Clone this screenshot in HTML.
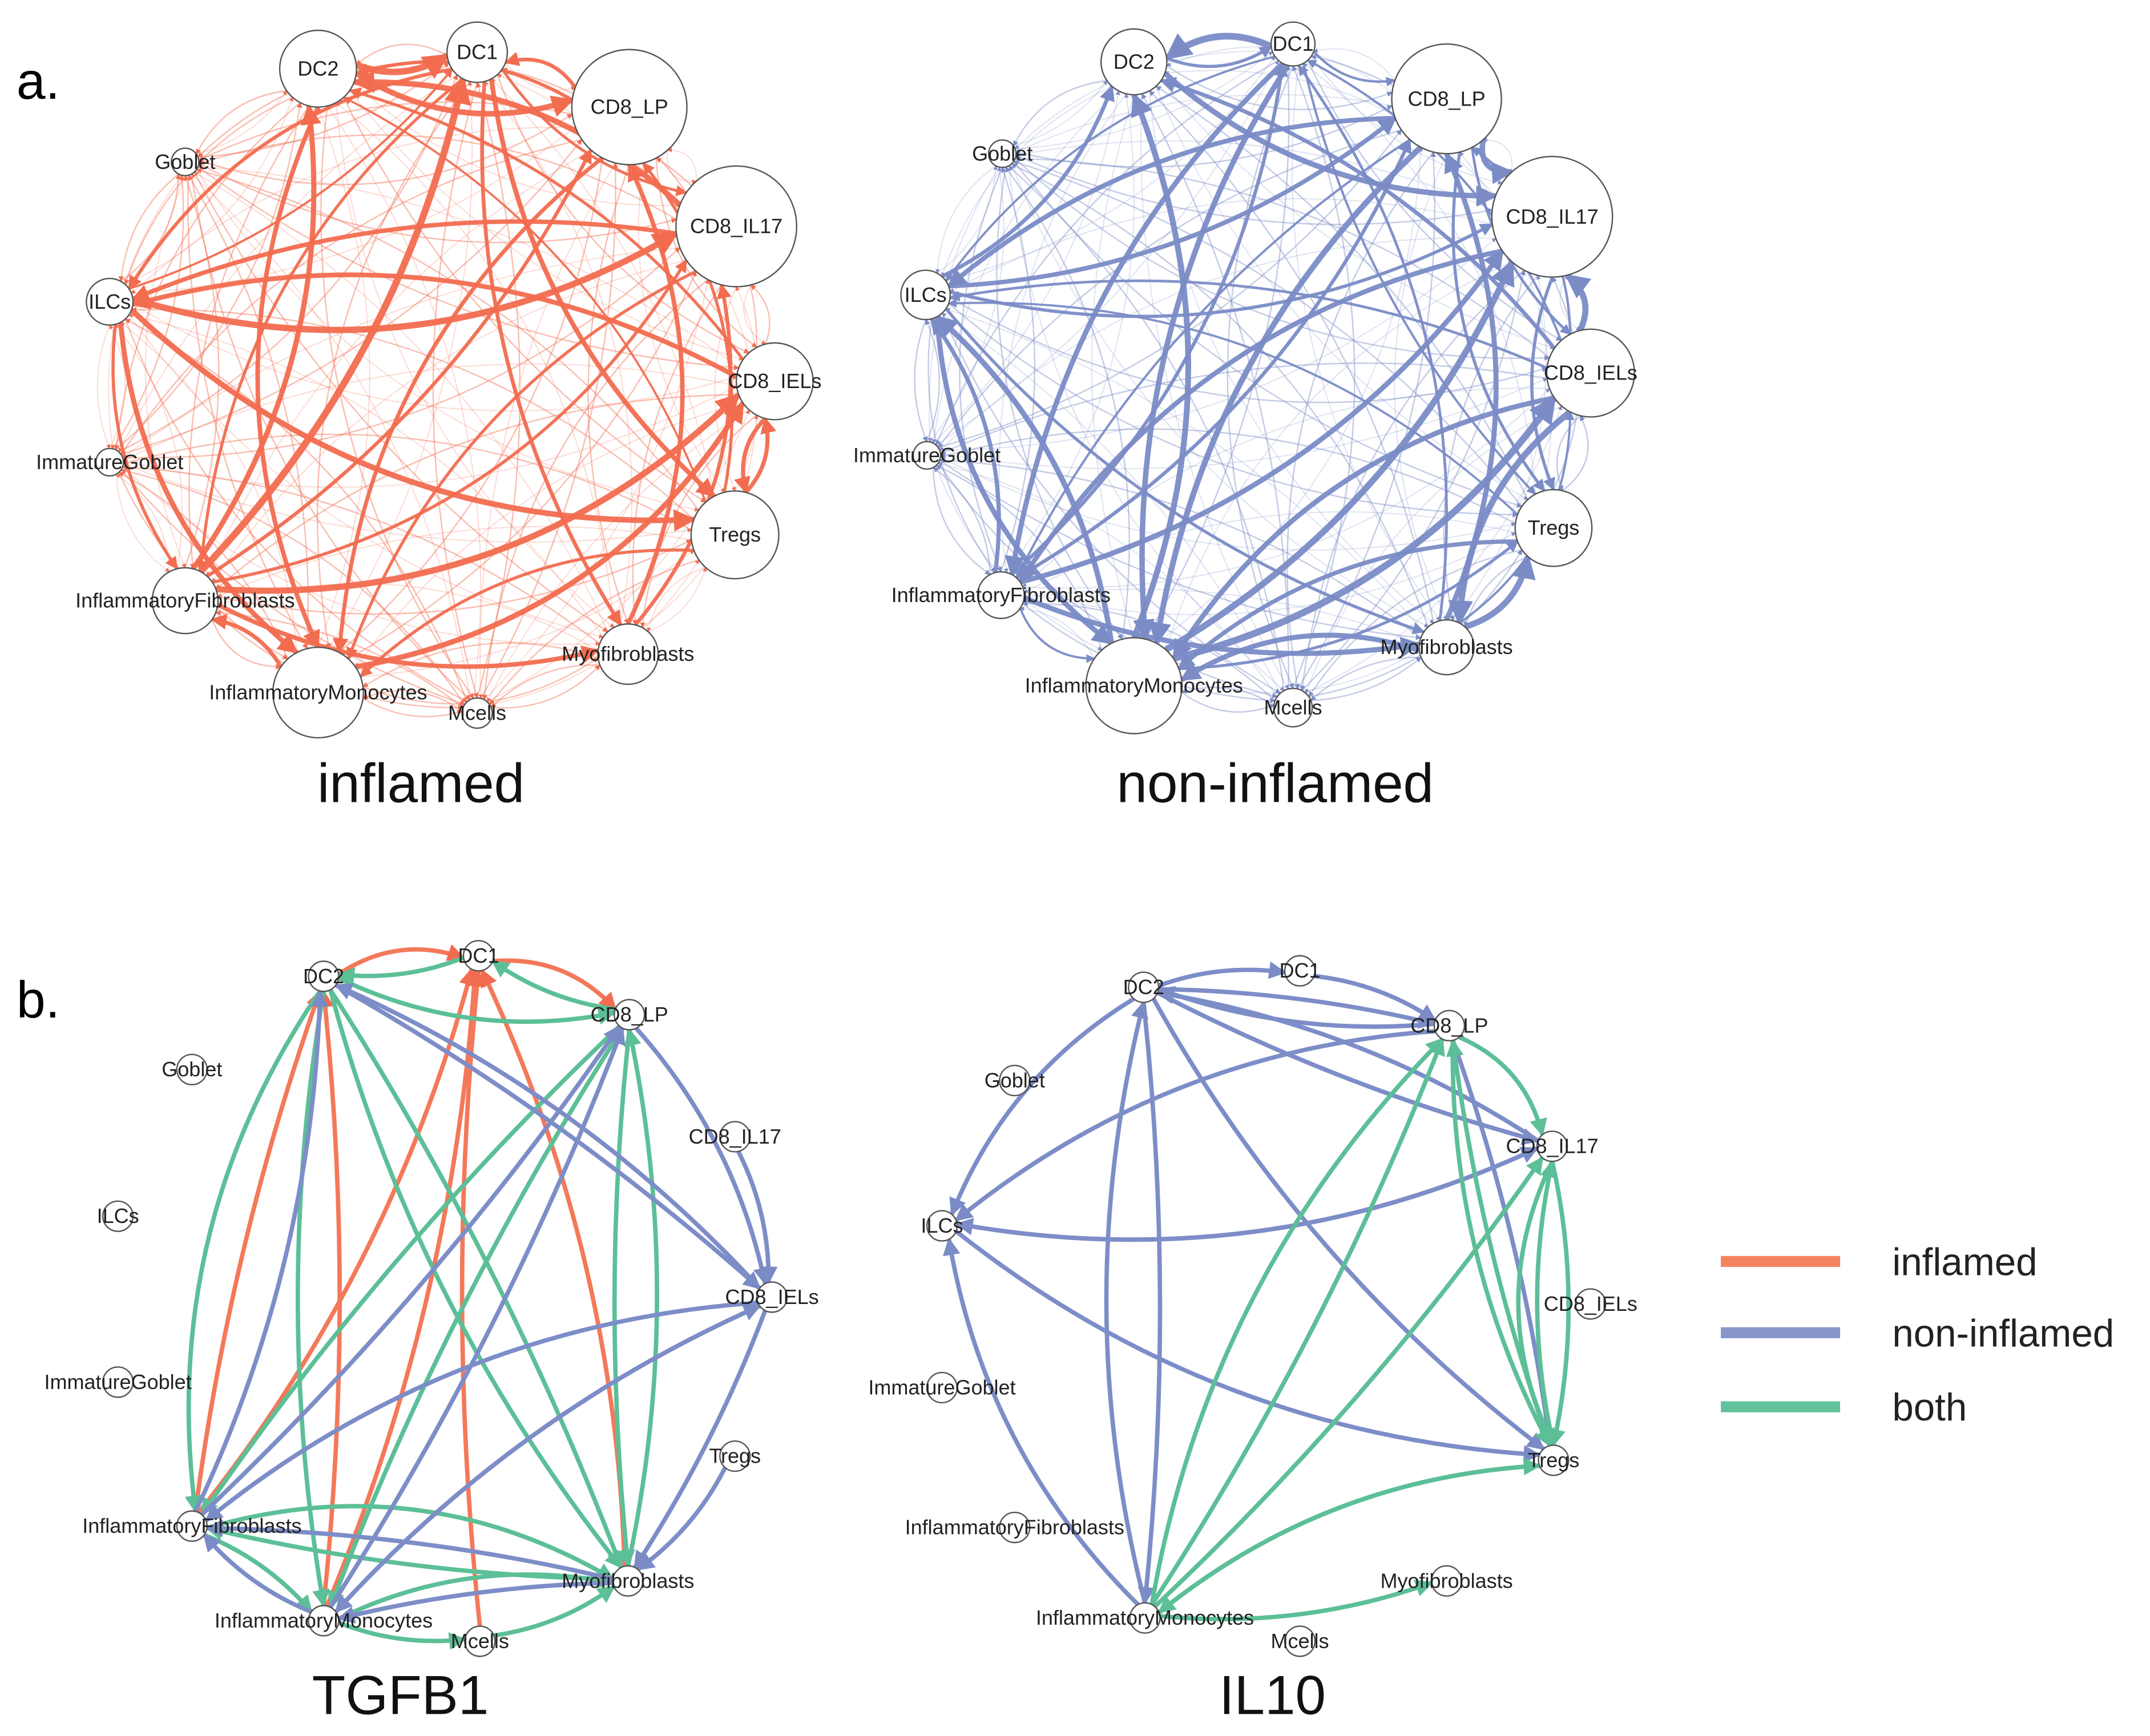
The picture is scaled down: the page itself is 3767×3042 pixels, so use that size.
<!DOCTYPE html>
<html><head><meta charset="utf-8"><style>
html,body{margin:0;padding:0;background:#fff}
svg{display:block}
text{font-family:"Liberation Sans",sans-serif}
</style></head><body>
<svg id="s" width="3767" height="3042" viewBox="0 0 1568 1266" xmlns="http://www.w3.org/2000/svg">
<defs>
<marker id="mo" viewBox="0 0 10 10" refX="9" refY="5" markerWidth="4" markerHeight="4" orient="auto" markerUnits="strokeWidth"><path d="M0,0L10,5L0,10z" fill="#f26c4f"/></marker>
<marker id="mb" viewBox="0 0 10 10" refX="9" refY="5" markerWidth="4" markerHeight="4" orient="auto" markerUnits="strokeWidth"><path d="M0,0L10,5L0,10z" fill="#7a8bc6"/></marker>
<marker id="mg" viewBox="0 0 10 10" refX="9" refY="5" markerWidth="4" markerHeight="4" orient="auto" markerUnits="strokeWidth"><path d="M0,0L10,5L0,10z" fill="#5cbf97"/></marker>
</defs>
<g id="edges"></g>
<g id="nodes" fill="#fff" stroke="#555" stroke-width="1"></g>
<g font-size="15" fill="#222" text-anchor="middle" id="labels"></g>
<text x="12" y="72" font-size="38" fill="#000">a.</text>
<text x="12" y="742" font-size="38" fill="#000">b.</text>
<text x="307" y="585" font-size="40" text-anchor="middle" fill="#111">inflamed</text>
<text x="930" y="585" font-size="40" text-anchor="middle" fill="#111">non-inflamed</text>
<text x="292" y="1250" font-size="40" text-anchor="middle" fill="#111">TGFB1</text>
<text x="928" y="1250" font-size="40" text-anchor="middle" fill="#111">IL10</text>
<line x1="1255" y1="920" x2="1342" y2="920" stroke="#f4845f" stroke-width="8"/>
<line x1="1255" y1="972" x2="1342" y2="972" stroke="#8795cc" stroke-width="8"/>
<line x1="1255" y1="1026" x2="1342" y2="1026" stroke="#62c29c" stroke-width="8"/>
<text x="1380" y="930" font-size="28" fill="#222">inflamed</text>
<text x="1380" y="982" font-size="28" fill="#222">non-inflamed</text>
<text x="1380" y="1036" font-size="28" fill="#222">both</text>
</svg>
<script>
const N=["DC2","DC1","CD8_LP","Goblet","CD8_IL17","ILCs","CD8_IELs","ImmatureGoblet","Tregs","InflammatoryFibroblasts","Myofibroblasts","InflammatoryMonocytes","Mcells"];
const A={DC2:[232,50,28],DC1:[348,38,22],CD8_LP:[459,78,42],Goblet:[135,118,10],CD8_IL17:[537,165,44],ILCs:[80,220,17],CD8_IELs:[565,278,28],ImmatureGoblet:[80,337,10],Tregs:[536,390,32],InflammatoryFibroblasts:[135,438,24],Myofibroblasts:[458,477,22],InflammatoryMonocytes:[232,505,33],Mcells:[348,520,11]};
const B={DC2:[827,45,24],DC1:[943,32,16],CD8_LP:[1055,72,40],Goblet:[731,112,10],CD8_IL17:[1132,158,44],ILCs:[675,215,18],CD8_IELs:[1160,272,32],ImmatureGoblet:[676,332,10],Tregs:[1133,385,28],InflammatoryFibroblasts:[730,434,17],Myofibroblasts:[1055,472,20],InflammatoryMonocytes:[827,500,35],Mcells:[943,516,14]};
const C={DC2:[236,712,11],DC1:[349,697,11],CD8_LP:[459,740,11],Goblet:[140,780,11],CD8_IL17:[536,829,11],ILCs:[86,887,11],CD8_IELs:[563,946,11],ImmatureGoblet:[86,1008,11],Tregs:[536,1062,11],InflammatoryFibroblasts:[140,1113,11],Myofibroblasts:[458,1153,11],InflammatoryMonocytes:[236,1182,11],Mcells:[350,1197,11]};
const D={DC2:[834,720,11],DC1:[948,708,11],CD8_LP:[1057,748,11],Goblet:[740,788,11],CD8_IL17:[1132,836,11],ILCs:[687,894,11],CD8_IELs:[1160,951,11],ImmatureGoblet:[687,1012,11],Tregs:[1133,1065,11],InflammatoryFibroblasts:[740,1114,11],Myofibroblasts:[1055,1153,11],InflammatoryMonocytes:[835,1180,11],Mcells:[948,1197,11]};
const E=document.getElementById("edges"),ND=document.getElementById("nodes"),L=document.getElementById("labels");
const ns="http://www.w3.org/2000/svg";
function edge(P,a,b,col,mk,w,op,bend){
 const p=P[a],q=P[b];let dx=q[0]-p[0],dy=q[1]-p[1],d=Math.hypot(dx,dy);if(d<1)return;
 const ux=dx/d,uy=dy/d;
 const x1=p[0]+ux*p[2],y1=p[1]+uy*p[2],x2=q[0]-ux*q[2],y2=q[1]-uy*q[2];
 const mx=(x1+x2)/2-uy*d*bend,my=(y1+y2)/2+ux*d*bend;
 const e=document.createElementNS(ns,"path");
 e.setAttribute("d",`M${x1},${y1}Q${mx},${my} ${x2},${y2}`);
 e.setAttribute("fill","none");e.setAttribute("stroke",col);e.setAttribute("stroke-width",w);
 e.setAttribute("stroke-opacity",op);if(mk)e.setAttribute("marker-end",`url(#${mk})`);
 E.appendChild(e);
}
let seed=7;function rnd(){seed=(seed*16807)%2147483647;return seed/2147483647;}
const big=["DC2","DC1","CD8_LP","CD8_IL17","CD8_IELs","Tregs","InflammatoryMonocytes","InflammatoryFibroblasts","ILCs","Myofibroblasts"];
function dense(P,col,mk){
 for(const a of N)for(const b of N){if(a===b)continue;
  const ia=big.indexOf(a),ib=big.indexOf(b);
  let s=(ia>=0?1:0)+(ib>=0?1:0);let r=rnd();
  let w,op;
  if(s===2&&r<0.55){w=1.5+rnd()*3.5;op=0.95;}else if(r<0.7){w=1;op=0.45;}else{w=0.8;op=0.25;}
  edge(P,a,b,col,mk,w,op,0.12+rnd()*0.08);
 }
}
dense(A,"#f26c4f","mo");
dense(B,"#7a8bc6","mb");
const O="#f4785a",Bl="#7d8dc8",G="#5cbf97";
const T=[["DC2","DC1",O,"mo",-.2],["DC1","CD8_LP",O,"mo",-.2],["InflammatoryFibroblasts","DC1",O,"mo",.1],["InflammatoryMonocytes","DC1",O,"mo",.08],["Myofibroblasts","DC1",O,"mo",.1],["InflammatoryMonocytes","DC2",O,"mo",.05],["InflammatoryFibroblasts","DC2",O,"mo",-.05],["Mcells","DC1",O,"mo",-.05],
["DC1","DC2",G,"mg",-.1],["CD8_LP","DC1",G,"mg",-.1],["DC2","CD8_LP",G,"mg",.15],["DC2","InflammatoryFibroblasts",G,"mg",.18],["DC2","InflammatoryMonocytes",G,"mg",.08],["DC2","Myofibroblasts",G,"mg",-.05],["CD8_LP","InflammatoryFibroblasts",G,"mg",.05],["CD8_LP","InflammatoryMonocytes",G,"mg",.05],["CD8_LP","Myofibroblasts",G,"mg",.05],["InflammatoryMonocytes","Myofibroblasts",G,"mg",-.15],["InflammatoryFibroblasts","Myofibroblasts",G,"mg",-.2],["Myofibroblasts","CD8_LP",G,"mg",.1],["Myofibroblasts","InflammatoryFibroblasts",G,"mg",-.05],["InflammatoryMonocytes","Mcells",G,"mg",.1],["Mcells","Myofibroblasts",G,"mg",.1],["InflammatoryFibroblasts","InflammatoryMonocytes",G,"mg",-.1],["DC2","Myofibroblasts",G,"mg",.1],
["CD8_LP","CD8_IELs",Bl,"mb",-.12],["CD8_IELs","DC2",Bl,"mb",.1],["DC2","CD8_IELs",Bl,"mb",-.05],["CD8_IELs","InflammatoryFibroblasts",Bl,"mb",.15],["CD8_IELs","InflammatoryMonocytes",Bl,"mb",.1],["CD8_IELs","Myofibroblasts",Bl,"mb",-.05],["InflammatoryFibroblasts","CD8_LP",Bl,"mb",.05],["InflammatoryMonocytes","CD8_LP",Bl,"mb",.05],["InflammatoryFibroblasts","DC2",Bl,"mb",.1],["Myofibroblasts","InflammatoryFibroblasts",Bl,"mb",.05],["InflammatoryMonocytes","InflammatoryFibroblasts",Bl,"mb",-.1],["Tregs","Myofibroblasts",Bl,"mb",-.1],["CD8_IL17","CD8_IELs",Bl,"mb",-.1],["InflammatoryMonocytes","CD8_IELs",Bl,"mb",-.1],["Myofibroblasts","InflammatoryMonocytes",Bl,"mb",.05]];
for(const t of T)edge(C,t[0],t[1],t[2],t[3],3.2,1,t[4]);
const I=[["DC2","CD8_LP",Bl,"mb",-.05],["DC1","CD8_LP",Bl,"mb",-.1],["DC2","DC1",Bl,"mb",-.1],["CD8_LP","DC2",Bl,"mb",-.1],["DC2","CD8_IL17",Bl,"mb",.05],["CD8_IL17","DC2",Bl,"mb",.1],["DC2","ILCs",Bl,"mb",.15],["DC2","Tregs",Bl,"mb",.1],["DC2","InflammatoryMonocytes",Bl,"mb",-.05],["InflammatoryMonocytes","DC2",Bl,"mb",-.12],["CD8_LP","ILCs",Bl,"mb",.15],["CD8_IL17","ILCs",Bl,"mb",-.15],["ILCs","Tregs",Bl,"mb",.15],["CD8_LP","Tregs",Bl,"mb",-.05],["InflammatoryMonocytes","ILCs",Bl,"mb",-.15],["ILCs","CD8_IL17",Bl,"mb",.15],
["InflammatoryMonocytes","CD8_LP",G,"mg",-.15],["InflammatoryMonocytes","CD8_IL17",G,"mg",.05],["InflammatoryMonocytes","Tregs",G,"mg",-.15],["Tregs","InflammatoryMonocytes",G,"mg",.15],["CD8_LP","CD8_IL17",G,"mg",-.2],["CD8_LP","Tregs",G,"mg",.12],["CD8_IL17","Tregs",G,"mg",-.1],["Tregs","CD8_IL17",G,"mg",-.1],["CD8_IL17","Tregs",G,"mg",.22],["InflammatoryMonocytes","CD8_LP",G,"mg",.05],["Tregs","CD8_LP",G,"mg",-.05],["InflammatoryMonocytes","Myofibroblasts",G,"mg",.1]];
for(const t of I)edge(D,t[0],t[1],t[2],t[3],3.2,1,t[4]);
for(const P of [A,B,C,D]){for(const n of N){const p=P[n];
 const c=document.createElementNS(ns,"circle");c.setAttribute("cx",p[0]);c.setAttribute("cy",p[1]);c.setAttribute("r",p[2]);ND.appendChild(c);
 const t=document.createElementNS(ns,"text");t.setAttribute("x",p[0]);t.setAttribute("y",p[1]+5);t.textContent=n;L.appendChild(t);}}
</script>
</body></html>
